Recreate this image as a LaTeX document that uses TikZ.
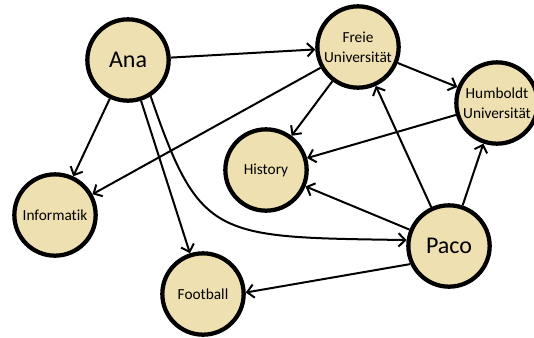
\documentclass[tikz,border=0pt]{standalone}
\usepackage{fontspec}
\setmainfont[Ligatures={NoCommon}]{Carlito}
\usetikzlibrary{arrows.meta}
\definecolor{nodefill}{RGB}{238,224,176}
\begin{document}
\begin{tikzpicture}[x=0.75pt,y=-0.75pt,
  place/.style={circle,draw=black,line width=3.2pt,fill=nodefill,minimum size=61pt,inner sep=0pt,align=center,font=\fontsize{11.5}{15}\selectfont},
  bigplace/.style={place,font=\fontsize{18}{20}\selectfont},
  arr/.style={line width=1.5pt,-{Straight Barb[length=5pt,width=10pt,line width=1.5pt]}}]
\useasboundingbox (0,0) rectangle (534,337);
\node[bigplace] (Ana) at (128,60) {Ana};
\node[place] (Freie) at (358,47) {Freie\\Universität};
\node[place] (Humboldt) at (497,103) {Humboldt\\Universität};
\node[place] (History) at (266,170) {History};
\node[place] (Informatik) at (55,215) {Informatik};
\node[place] (Football) at (203,294) {Football};
\node[bigplace] (Paco) at (449,246) {Paco};
\draw[arr] (Ana) -- (Freie);
\draw[arr] (Ana) -- (Informatik);
\draw[arr] (Ana) -- (Football);
\draw[arr] (Ana.-58) .. controls (200,240) and (215,237) .. (Paco.172);
\draw[arr] (Freie) -- (Informatik);
\draw[arr] (Freie) -- (History);
\draw[arr] (Freie) -- (Humboldt);
\draw[arr] (Humboldt) -- (History);
\draw[arr] (Paco) -- (Freie);
\draw[arr] (Paco) -- (Humboldt);
\draw[arr] (Paco) -- (History);
\draw[arr] (Paco.205) -- (Football.2);
\end{tikzpicture}
\end{document}
